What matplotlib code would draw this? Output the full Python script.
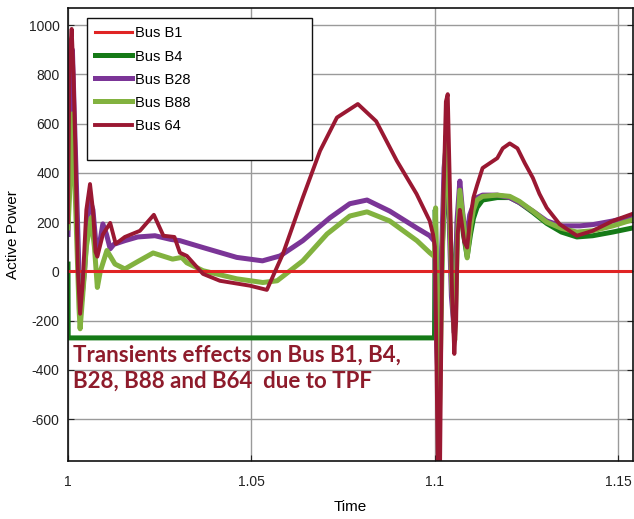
import numpy as np
import matplotlib
matplotlib.use('Agg')
import matplotlib.pyplot as plt
from matplotlib.patches import Rectangle

# series values (time, active power)
t_b1 = [1.0, 1.155]
p_b1 = [0, 0]

t_b4 = [1.0, 1.00005, 1.0999, 1.1001, 1.1006, 1.1012, 1.102, 1.103, 1.104, 1.1053,
        1.1062, 1.1068, 1.1078, 1.1088, 1.1097, 1.1105, 1.1115, 1.113, 1.117, 1.1204,
        1.123, 1.1267, 1.1305, 1.1345, 1.1387, 1.143, 1.1485, 1.155]
p_b4 = [30, -270, -270, 250, -200, -400, 100, 400, 200, -150,
        200, 300, 150, 60, 150, 215, 260, 290, 300, 300,
        280, 240, 195, 160, 140, 145, 160, 180]

t_b28 = [1.0, 1.0007, 1.0012, 1.002, 1.003, 1.0035, 1.0045, 1.0058, 1.0068, 1.0078,
         1.0088, 1.0095, 1.0105, 1.0115, 1.0125, 1.0155, 1.019, 1.0237, 1.028, 1.0305,
         1.0368, 1.046, 1.053, 1.0578, 1.064, 1.0714, 1.0768, 1.0815, 1.0877, 1.095,
         1.0986, 1.1, 1.1005, 1.101, 1.1017, 1.1025, 1.103, 1.1037, 1.1045, 1.1053,
         1.106, 1.1068, 1.1075, 1.1085, 1.1095, 1.1105, 1.1115, 1.113, 1.117, 1.1204,
         1.123, 1.1267, 1.1305, 1.1345, 1.1395, 1.143, 1.1485, 1.155]
p_b28 = [150, 800, 900, 500, 0, -150, 0, 300, 250, 80,
         130, 193, 150, 92, 110, 125, 140, 145, 130, 125,
         97, 57, 43, 63, 125, 218, 275, 290, 245, 177,
         145, 120, -300, -500, 0, 420, 500, 300, -100, -250,
         200, 367, 250, 120, 230, 270, 300, 310, 310, 300,
         280, 245, 205, 185, 185, 190, 205, 228]

t_b88 = [1.0, 1.0004, 1.0012, 1.002, 1.003, 1.0033, 1.004, 1.005, 1.0063, 1.0072,
         1.008, 1.0088, 1.0106, 1.0128, 1.0155, 1.019, 1.0232, 1.0285, 1.031, 1.0324,
         1.0368, 1.046, 1.0531, 1.057, 1.064, 1.0706, 1.0768, 1.0815, 1.0877, 1.0951,
         1.0986, 1.0999, 1.1002, 1.1007, 1.1012, 1.102, 1.103, 1.1038, 1.1046, 1.1054,
         1.1062, 1.1068, 1.1078, 1.1088, 1.1097, 1.1105, 1.1115, 1.113, 1.117, 1.1204,
         1.123, 1.1267, 1.1305, 1.1345, 1.1387, 1.143, 1.1485, 1.155]
p_b88 = [177, 300, 640, 300, -150, -233, -100, 100, 218, 100,
         -65, 0, 85, 30, 10, 40, 75, 50, 57, 35,
         3, -30, -45, -38, 43, 152, 225, 242, 205, 125,
         76, 60, 258, -300, -600, 50, 550, 350, -50, -280,
         150, 330, 200, 55, 180, 250, 290, 305, 310, 305,
         285, 245, 200, 175, 160, 165, 185, 215]

t_b64 = [1.0, 1.0004, 1.001, 1.0015, 1.002, 1.0027, 1.0033, 1.004, 1.005, 1.006,
         1.0068, 1.0075, 1.008, 1.0095, 1.0115, 1.013, 1.0155, 1.0196, 1.0234, 1.026,
         1.029, 1.0305, 1.0324, 1.0368, 1.0414, 1.0496, 1.0542, 1.0586, 1.064, 1.0687,
         1.0733, 1.079, 1.084, 1.0896, 1.095, 1.0986, 1.0995, 1.1, 1.1003, 1.1008,
         1.1014, 1.102, 1.103, 1.1035, 1.104, 1.1047, 1.1053, 1.1058, 1.1062, 1.1068,
         1.1073, 1.108, 1.1088, 1.1095, 1.1105, 1.1115, 1.113, 1.115, 1.117, 1.1185,
         1.1204, 1.1225, 1.1245, 1.1267, 1.1285, 1.1305, 1.134, 1.1387, 1.143, 1.1485,
         1.155]
p_b64 = [200, 860, 985, 800, 500, 0, -172, -50, 250, 355,
         250, 80, 60, 150, 197, 112, 140, 165, 230, 145,
         140, 76, 63, -10, -38, -58, -75, 72, 300, 490,
         625, 680, 610, 450, 315, 205, 150, 100, -200, -800,
         -800, 100, 690, 720, 400, -100, -335, -200, 150, 250,
         200, 120, 97, 200, 300, 350, 420, 440, 460, 500,
         520, 500, 440, 380, 315, 258, 192, 145, 165, 205,
         240]

labels = ['Bus B1', 'Bus B4', 'Bus B28', 'Bus B88', 'Bus 64']
colors = ['#e02424', '#157a17', '#7b3597', '#82b23f', '#9a1832']
widths = [2.2, 3.6, 3.6, 3.6, 2.8]

xticks = [1.0, 1.05, 1.1, 1.15]
xtick_labels = ['1', '1.05', '1.1', '1.15']
yticks = [-600, -400, -200, 0, 200, 400, 600, 800, 1000]

note = 'Transients effects on Bus B1, B4,\nB28, B88 and B64  due to TPF'

plt.rcParams['font.family'] = ['Liberation Sans', 'DejaVu Sans']
plt.rcParams['axes.unicode_minus'] = False

fig = plt.figure(figsize=(6.34, 5.19), dpi=100)
ax = fig.add_axes([68 / 634, 58 / 519, 565 / 634, 453 / 519])

series = [(t_b1, p_b1), (t_b4, p_b4), (t_b28, p_b28), (t_b88, p_b88), (t_b64, p_b64)]
order = [1, 2, 3, 0, 4]
lines = {}
for i in order:
    t, p = series[i]
    ln, = ax.plot(t, p, color=colors[i], lw=widths[i], label=labels[i],
                  solid_joinstyle='round')
    lines[i] = ln

ax.set_xlim(1.0, 1.154)
ax.set_ylim(-770, 1070)
ax.set_xticks(xticks)
ax.set_xticklabels(xtick_labels)
ax.set_yticks(yticks)
ax.grid(True, color='#9a9a9a', lw=1.0)
ax.set_axisbelow(True)
ax.tick_params(axis='both', direction='in', length=4, labelsize=10, colors='#222222')
ax.tick_params(axis='x', pad=10)
ax.tick_params(axis='y', pad=6, right=True)
for s in ax.spines.values():
    s.set_linewidth(1.2)
    s.set_color('#111111')

ax.set_xlabel('Time', fontsize=11, labelpad=8)
ax.set_ylabel('Active Power', fontsize=11, labelpad=6)

# legend box is larger than its entries
ax.add_patch(Rectangle((0.034, 0.664), 0.398, 0.314, transform=ax.transAxes,
                       facecolor='white', edgecolor='#111111', lw=1.0, zorder=5))
leg = ax.legend([lines[i] for i in range(5)], labels, loc='upper left',
                bbox_to_anchor=(0.028, 0.985), frameon=False, fontsize=10.5,
                handlelength=2.5, handletextpad=0.2, labelspacing=0.62,
                borderpad=0.3)
leg.set_zorder(6)

ax.text(0.008, 0.204, note, transform=ax.transAxes, fontsize=16,
        family=['Lato', 'DejaVu Sans'], fontweight='bold', color='#8e1b2b',
        va='center', ha='left', linespacing=1.3, zorder=7)

fig.savefig('out.png', dpi=100)
